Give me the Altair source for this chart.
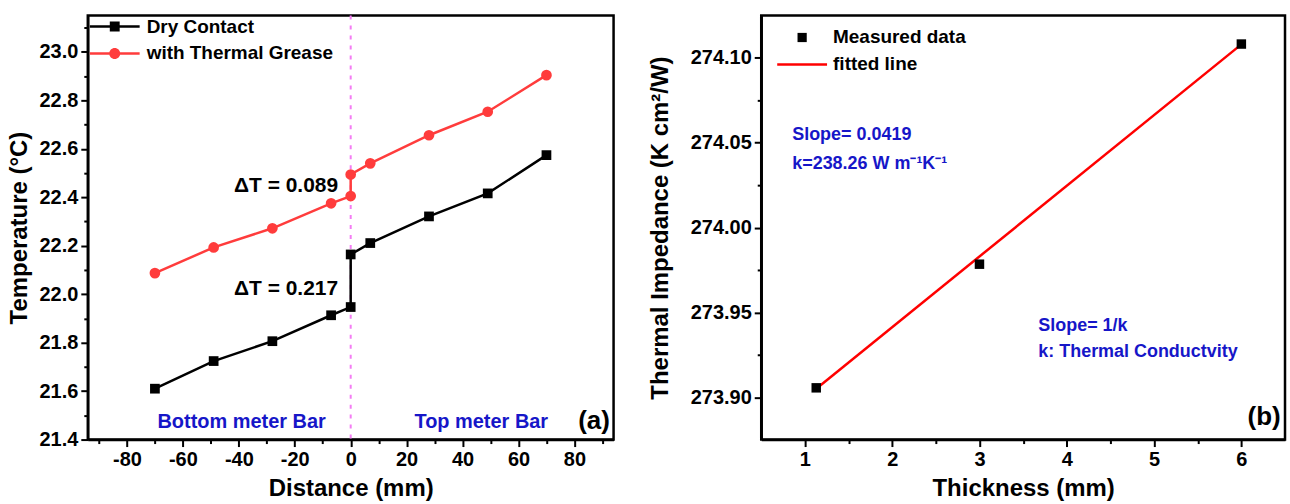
import altair as alt
import pandas as pd

FONT = "Liberation Sans"
BLUE = "#1616c8"
RED_A = "#ff3c3c"
RED_B = "#ff0000"
PINK = "#f47cf4"

# ---------------- panel (a) data ----------------
distance = [-70, -49, -28, -7, 0, 0, 7, 28, 49, 70]
dry_contact = [21.610, 21.724, 21.806, 21.913, 21.947, 22.164, 22.211, 22.321, 22.416, 22.574]
thermal_grease = [22.087, 22.193, 22.272, 22.375, 22.405, 22.494, 22.540, 22.656, 22.753, 22.904]
series_a = ["Dry Contact", "with Thermal Grease"]

# annotations (a)
dT_text = ["\u0394T = 0.089", "\u0394T = 0.217"]
dT_x = [-4.5, -4.5]
dT_y = [22.447, 22.021]
bar_text = ["Bottom meter Bar", "Top meter Bar"]
bar_x = [-39, 46.7]
bar_y = [21.474, 21.474]
label_a = ["(a)"]
label_a_x = [87]
label_a_y = [21.478]

# ---------------- panel (b) data ----------------
thickness = [1.13, 3.0, 6.0]
impedance = [273.9055, 273.9784, 274.1082]
fit_x = [1.13, 6.0]
fit_y = [273.905, 274.108]
series_b = ["Measured data", "fitted line"]

slope_text = ["Slope= 0.0419", "k=238.26 W m\u207b\u00b9K\u207b\u00b9"]
slope_x = [0.855, 0.855]
slope_y = [274.0545, 274.0372]
note_text = ["Slope= 1/k", "k: Thermal Conductvity"]
note_x = [3.674, 3.674]
note_y = [273.942, 273.9265]
label_b = ["(b)"]
label_b_x = [6.26]
label_b_y = [273.888]

# ---------------- tables ----------------
rows = []
for i, (d, v) in enumerate(zip(distance, dry_contact)):
    rows.append({"idx": i, "dist": d, "temp": v, "series": series_a[0]})
for i, (d, v) in enumerate(zip(distance, thermal_grease)):
    rows.append({"idx": i, "dist": d, "temp": v, "series": series_a[1]})
df_a = pd.DataFrame(rows)

xa_scale = alt.Scale(domain=[-94, 94], nice=False, zero=False)
ya_scale = alt.Scale(domain=[21.4, 23.15], nice=False, zero=False)

xa_axis = alt.Axis(
    title="Distance (mm)",
    values=list(range(-90, 91, 10)),
    labelExpr="datum.value % 20 === 0 ? replace(format(datum.value, 'd'), '\u2212', '-') : ''",
    tickSize={"condition": {"test": "datum.value % 20 === 0", "value": 7}, "value": 4},
    titlePadding=7,
)
ya_axis = alt.Axis(
    title="Temperature (\u00b0C)",
    values=[round(21.4 + 0.1 * k, 1) for k in range(0, 18)],
    labelExpr="round(datum.value * 10) % 2 === 0 ? datum.label : ''",
    tickSize={"condition": {"test": "round(datum.value * 10) % 2 === 0", "value": 7}, "value": 4},
    format=".1f",
    titlePadding=8,
)

X_a = alt.X("dist:Q", scale=xa_scale, axis=xa_axis)
Y_a = alt.Y("temp:Q", scale=ya_scale, axis=ya_axis)

base_a = alt.Chart(df_a)

rule0 = alt.Chart(pd.DataFrame({"dist": [0]})).mark_rule(
    color=PINK, strokeWidth=2, strokeDash=[4, 6]
).encode(x=alt.X("dist:Q", scale=xa_scale, axis=xa_axis))

dry_line = base_a.transform_filter(alt.datum.series == series_a[0]).mark_line(
    color="black", strokeWidth=2.5
).encode(x=X_a, y=Y_a, order="idx:Q")
dry_pts = base_a.transform_filter(alt.datum.series == series_a[0]).mark_point(
    shape="square", filled=True, size=95, color="black", opacity=1
).encode(x=X_a, y=Y_a)
gr_line = base_a.transform_filter(alt.datum.series == series_a[1]).mark_line(
    color=RED_A, strokeWidth=2.5
).encode(x=X_a, y=Y_a, order="idx:Q")
gr_pts = base_a.transform_filter(alt.datum.series == series_a[1]).mark_point(
    shape="circle", filled=True, size=115, color=RED_A, opacity=1
).encode(x=X_a, y=Y_a)

# legend symbol paths (unit = 11 px with symbolSize 484)
LINE = "M-2.27,-0.11L2.27,-0.11L2.27,0.11L-2.27,0.11Z"
SQ = "M-0.45,-0.45L0.45,-0.45L0.45,0.45L-0.45,0.45Z"
CIRC = "M-0.5,0A0.5,0.5,0,1,1,0.5,0A0.5,0.5,0,1,1,-0.5,0Z"
SQ_B = "M-0.42,-0.42L0.42,-0.42L0.42,0.42L-0.42,0.42Z"


def legend(x, y, off):
    return alt.Legend(
        orient="none", legendX=x, legendY=y, title=None, labelFont=FONT,
        labelFontSize=19, labelFontWeight="bold", labelColor="black",
        symbolSize=484, symbolStrokeWidth=0, padding=0, rowPadding=6,
        labelOffset=off, labelLimit=500,
    )


leg_a = base_a.transform_filter("false").mark_point(filled=True, opacity=1).encode(
    x=X_a, y=Y_a,
    color=alt.Color("series:N", scale=alt.Scale(domain=series_a, range=["black", RED_A]),
                    legend=legend(16, 0, 21)),
    shape=alt.Shape("series:N", scale=alt.Scale(domain=series_a, range=[LINE + SQ, LINE + CIRC]),
                    legend=legend(16, 0, 21)),
)

dT_df = pd.DataFrame({"dist": dT_x, "temp": dT_y, "t": dT_text})
dT_layer = alt.Chart(dT_df).mark_text(
    align="right", baseline="middle", font=FONT, fontSize=21, fontWeight="bold", color="black"
).encode(x=X_a, y=Y_a, text="t:N")
bar_df = pd.DataFrame({"dist": bar_x, "temp": bar_y, "t": bar_text})
bar_layer = alt.Chart(bar_df).mark_text(
    align="center", baseline="middle", font=FONT, fontSize=20, fontWeight="bold", color=BLUE
).encode(x=X_a, y=Y_a, text="t:N")
la_df = pd.DataFrame({"dist": label_a_x, "temp": label_a_y, "t": label_a})
la_layer = alt.Chart(la_df).mark_text(
    align="center", baseline="middle", font=FONT, fontSize=26, fontWeight="bold", color="black"
).encode(x=X_a, y=Y_a, text="t:N")

panel_a = alt.layer(
    rule0, dry_line, gr_line, dry_pts, gr_pts, leg_a, dT_layer, bar_layer, la_layer
).properties(width=527, height=425)

# ---------------- panel (b) ----------------
df_b = pd.DataFrame({"th": thickness, "imp": impedance})
df_fit = pd.DataFrame({"th": fit_x, "imp": fit_y})

xb_scale = alt.Scale(domain=[0.5, 6.5], nice=False, zero=False)
yb_scale = alt.Scale(domain=[273.875, 274.125], nice=False, zero=False)
xb_axis = alt.Axis(
    title="Thickness (mm)",
    values=[0.5 * k for k in range(2, 13)],
    labelExpr="datum.value % 1 === 0 ? format(datum.value, 'd') : ''",
    tickSize={"condition": {"test": "datum.value % 1 === 0", "value": 7}, "value": 4},
    titlePadding=7,
)
yb_axis = alt.Axis(
    title="Thermal Impedance (K cm\u00b2/W)",
    values=[round(273.875 + 0.025 * k, 3) for k in range(1, 10)],
    labelExpr="round(datum.value * 1000) % 50 === 0 ? datum.label : ''",
    tickSize={"condition": {"test": "round(datum.value * 1000) % 50 === 0", "value": 7}, "value": 4},
    format=".2f",
    titlePadding=18,
)
X_b = alt.X("th:Q", scale=xb_scale, axis=xb_axis)
Y_b = alt.Y("imp:Q", scale=yb_scale, axis=yb_axis)

fit_layer = alt.Chart(df_fit).mark_line(color=RED_B, strokeWidth=2.5).encode(x=X_b, y=Y_b)
meas_layer = alt.Chart(df_b).mark_point(
    shape="square", filled=True, size=90, color="black", opacity=1
).encode(x=X_b, y=Y_b)

leg_b_df = pd.DataFrame({"th": [1.0], "imp": [274.0], "series": [series_b[0]]})
leg_b = alt.Chart(leg_b_df).transform_filter("false").mark_point(filled=True, opacity=1).encode(
    x=X_b, y=Y_b,
    color=alt.Color("series:N", scale=alt.Scale(domain=series_b, range=["black", RED_B]),
                    legend=legend(30, 11, 20)),
    shape=alt.Shape("series:N", scale=alt.Scale(domain=series_b, range=[SQ_B, LINE]),
                    legend=legend(30, 11, 20)),
)

slope_df = pd.DataFrame({"th": slope_x, "imp": slope_y, "t": slope_text})
slope_layer = alt.Chart(slope_df).mark_text(
    align="left", baseline="middle", font=FONT, fontSize=18, fontWeight="bold", color=BLUE
).encode(x=X_b, y=Y_b, text="t:N")
note_df = pd.DataFrame({"th": note_x, "imp": note_y, "t": note_text})
note_layer = alt.Chart(note_df).mark_text(
    align="left", baseline="middle", font=FONT, fontSize=18, fontWeight="bold", color=BLUE
).encode(x=X_b, y=Y_b, text="t:N")
lb_df = pd.DataFrame({"th": label_b_x, "imp": label_b_y, "t": label_b})
lb_layer = alt.Chart(lb_df).mark_text(
    align="center", baseline="middle", font=FONT, fontSize=26, fontWeight="bold", color="black"
).encode(x=X_b, y=Y_b, text="t:N")

panel_b = alt.layer(
    fit_layer, meas_layer, leg_b, slope_layer, note_layer, lb_layer
).properties(width=525, height=425)

chart = alt.hconcat(panel_a, panel_b, spacing=31).resolve_scale(
    color="independent", shape="independent"
).properties(
    padding={"left": 5, "top": 12, "right": 3, "bottom": 0}, background="white"
).configure_view(
    stroke="black", strokeWidth=2.5
).configure_axis(
    grid=False, domainColor="black", domainWidth=2.5, tickColor="black", tickWidth=2,
    labelFont=FONT, labelFontSize=20, labelFontWeight="bold", labelColor="black",
    labelPadding=3, labelOverlap=False, titleFont=FONT, titleFontSize=24,
    titleFontWeight="bold", titleColor="black",
).configure_legend(
    symbolStrokeWidth=0
)

chart.save("out.html", embed_options={"renderer": "svg", "actions": False})
